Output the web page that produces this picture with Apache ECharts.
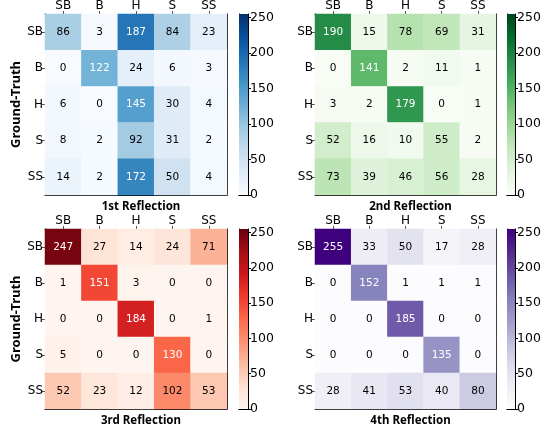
<!DOCTYPE html>
<html>
<head>
<meta charset="utf-8">
<script src="https://cdn.jsdelivr.net/npm/echarts@6/dist/echarts.min.js"></script>
<style>
  html, body { margin: 0; padding: 0; background: #fff; }
  #chart { width: 550px; height: 427px; }
</style>
</head>
<body>
<div id="chart"></div>
<script>
// class names (columns = prediction, rows = ground truth)
const classes = ['SB', 'B', 'H', 'S', 'SS'];
const cbTicks = [0, 50, 100, 150, 200, 250];
const cbMax = 255;

const reflection1 = [
  [86, 3, 187, 84, 23],
  [0, 122, 24, 6, 3],
  [6, 0, 145, 30, 4],
  [8, 2, 92, 31, 2],
  [14, 2, 172, 50, 4]
];
const reflection2 = [
  [190, 15, 78, 69, 31],
  [0, 141, 2, 11, 1],
  [3, 2, 179, 0, 1],
  [52, 16, 10, 55, 2],
  [73, 39, 46, 56, 28]
];
const reflection3 = [
  [247, 27, 14, 24, 71],
  [1, 151, 3, 0, 0],
  [0, 0, 184, 0, 1],
  [5, 0, 0, 130, 0],
  [52, 23, 12, 102, 53]
];
const reflection4 = [
  [255, 33, 50, 17, 28],
  [0, 152, 1, 1, 1],
  [0, 0, 185, 0, 0],
  [0, 0, 0, 135, 0],
  [28, 41, 53, 40, 80]
];
const titles = ['1st Reflection', '2nd Reflection', '3rd Reflection', '4th Reflection'];

const blues = ['#f7fbff', '#deebf7', '#c6dbef', '#9ecae1', '#6baed6', '#4292c6', '#2171b5', '#08519c', '#08306b'];
const greens = ['#f7fcf5', '#e5f5e0', '#c7e9c0', '#a1d99b', '#74c476', '#41ab5d', '#238b45', '#006d2c', '#00441b'];
const reds = ['#fff5f0', '#fee0d2', '#fcbba1', '#fc9272', '#fb6a4a', '#ef3b2c', '#cb181d', '#a50f15', '#67000d'];
const purples = ['#fcfbfd', '#efedf5', '#dadaeb', '#bcbddc', '#9e9ac8', '#807dba', '#6a51a3', '#54278f', '#3f007d'];

const panels = [
  {data: reflection1, cmap: blues, left: 45, top: 14, w: 182, h: 181, cbLeft: 239, cbW: 9},
  {data: reflection2, cmap: greens, left: 315, top: 14, w: 181, h: 181, cbLeft: 507, cbW: 8},
  {data: reflection3, cmap: reds, left: 45, top: 229, w: 182, h: 180, cbLeft: 239, cbW: 9},
  {data: reflection4, cmap: purples, left: 315, top: 229, w: 181, h: 180, cbLeft: 507, cbW: 8}
];

const tickFont = 'DejaVu Sans';
const lineStyle = {color: '#000', width: 1};

let grid = [], xAxis = [], yAxis = [], series = [], visualMap = [], title = [];

panels.forEach((p, i) => {
  // heatmap grid
  let g = grid.length;
  grid.push({left: p.left, top: p.top, width: p.w, height: p.h, containLabel: false});
  let xi = xAxis.length;
  xAxis.push({
    type: 'category', gridIndex: g, data: classes, position: 'top',
    axisLine: {show: true, lineStyle},
    axisTick: {show: true, length: 3, alignWithLabel: true, lineStyle: {color: '#555'}},
    axisLabel: {fontFamily: tickFont, fontSize: 12, color: '#000', margin: 2},
    splitLine: {show: false}
  });
  xAxis.push({
    type: 'category', gridIndex: g, data: classes, position: 'bottom',
    axisLine: {show: true, lineStyle}, axisTick: {show: false}, axisLabel: {show: false}
  });
  let yi = yAxis.length;
  yAxis.push({
    type: 'category', gridIndex: g, data: classes, inverse: true, position: 'left',
    axisLine: {show: true, lineStyle},
    axisTick: {show: true, length: 3, alignWithLabel: true, lineStyle: {color: '#555'}},
    axisLabel: {fontFamily: tickFont, fontSize: 12, color: '#000', margin: 2},
    name: i % 2 === 0 ? 'Ground-Truth' : '',
    nameLocation: 'middle', nameGap: 17, nameRotate: 90,
    nameTextStyle: {fontFamily: 'Noto Sans', fontWeight: 'bold', fontSize: 13, color: '#000'}
  });
  yAxis.push({
    type: 'category', gridIndex: g, data: classes, inverse: true, position: 'right',
    axisLine: {show: true, lineStyle}, axisTick: {show: false}, axisLabel: {show: false}
  });

  // text turns white on the darker half of each matrix
  let vmax = Math.max(...p.data.flat());
  let cells = [];
  p.data.forEach((row, r) => {
    row.forEach((v, c) => {
      cells.push({value: [c, r, v], label: {color: v > vmax / 2 ? '#fff' : '#000'}});
    });
  });
  let si = series.length;
  series.push({
    type: 'heatmap', xAxisIndex: xi, yAxisIndex: yi, data: cells,
    label: {show: true, fontFamily: tickFont, fontSize: 10.5, formatter: (d) => d.value[2]},
    emphasis: {disabled: true}
  });
  visualMap.push({
    type: 'continuous', show: false, seriesIndex: si, dimension: 2,
    min: 0, max: cbMax, inRange: {color: p.cmap}
  });

  // colorbar grid
  let cg = grid.length;
  grid.push({left: p.cbLeft, top: p.top, width: p.cbW, height: p.h});
  let cxi = xAxis.length;
  xAxis.push({
    type: 'category', gridIndex: cg, data: ['v'], position: 'bottom',
    axisLine: {show: true, lineStyle}, axisTick: {show: false}, axisLabel: {show: false}
  });
  xAxis.push({
    type: 'category', gridIndex: cg, data: ['v'], position: 'top',
    axisLine: {show: true, lineStyle}, axisTick: {show: false}, axisLabel: {show: false}
  });
  let cyi = yAxis.length;
  yAxis.push({
    type: 'value', gridIndex: cg, min: 0, max: cbMax, position: 'right',
    axisLine: {show: true, lineStyle},
    axisTick: {show: true, length: 3, customValues: cbTicks, lineStyle: {color: '#000'}},
    axisLabel: {fontFamily: tickFont, fontSize: 12.5, color: '#000', margin: 2, customValues: cbTicks},
    splitLine: {show: false}
  });
  yAxis.push({
    type: 'value', gridIndex: cg, min: 0, max: cbMax, position: 'left',
    axisLine: {show: true, lineStyle}, axisTick: {show: false}, axisLabel: {show: false},
    splitLine: {show: false}
  });
  let stops = p.cmap.map((c, k) => ({offset: 1 - k / (p.cmap.length - 1), color: c}));
  stops.reverse();
  series.push({
    type: 'bar', xAxisIndex: cxi, yAxisIndex: cyi, data: [cbMax],
    barWidth: '100%', silent: true,
    itemStyle: {color: new echarts.graphic.LinearGradient(0, 0, 0, 1, stops)}
  });

  title.push({
    text: titles[i], left: p.left + p.w / 2, top: p.top + p.h + 1, textAlign: 'center',
    textStyle: {fontFamily: 'Noto Sans', fontWeight: 'bold', fontSize: 11.5, color: '#000'}
  });
});

let chart = echarts.init(document.getElementById('chart'), null, {renderer: 'canvas'});
chart.setOption({
  animation: false,
  backgroundColor: '#fff',
  title, grid, xAxis, yAxis, series, visualMap
});
</script>
</body>
</html>
